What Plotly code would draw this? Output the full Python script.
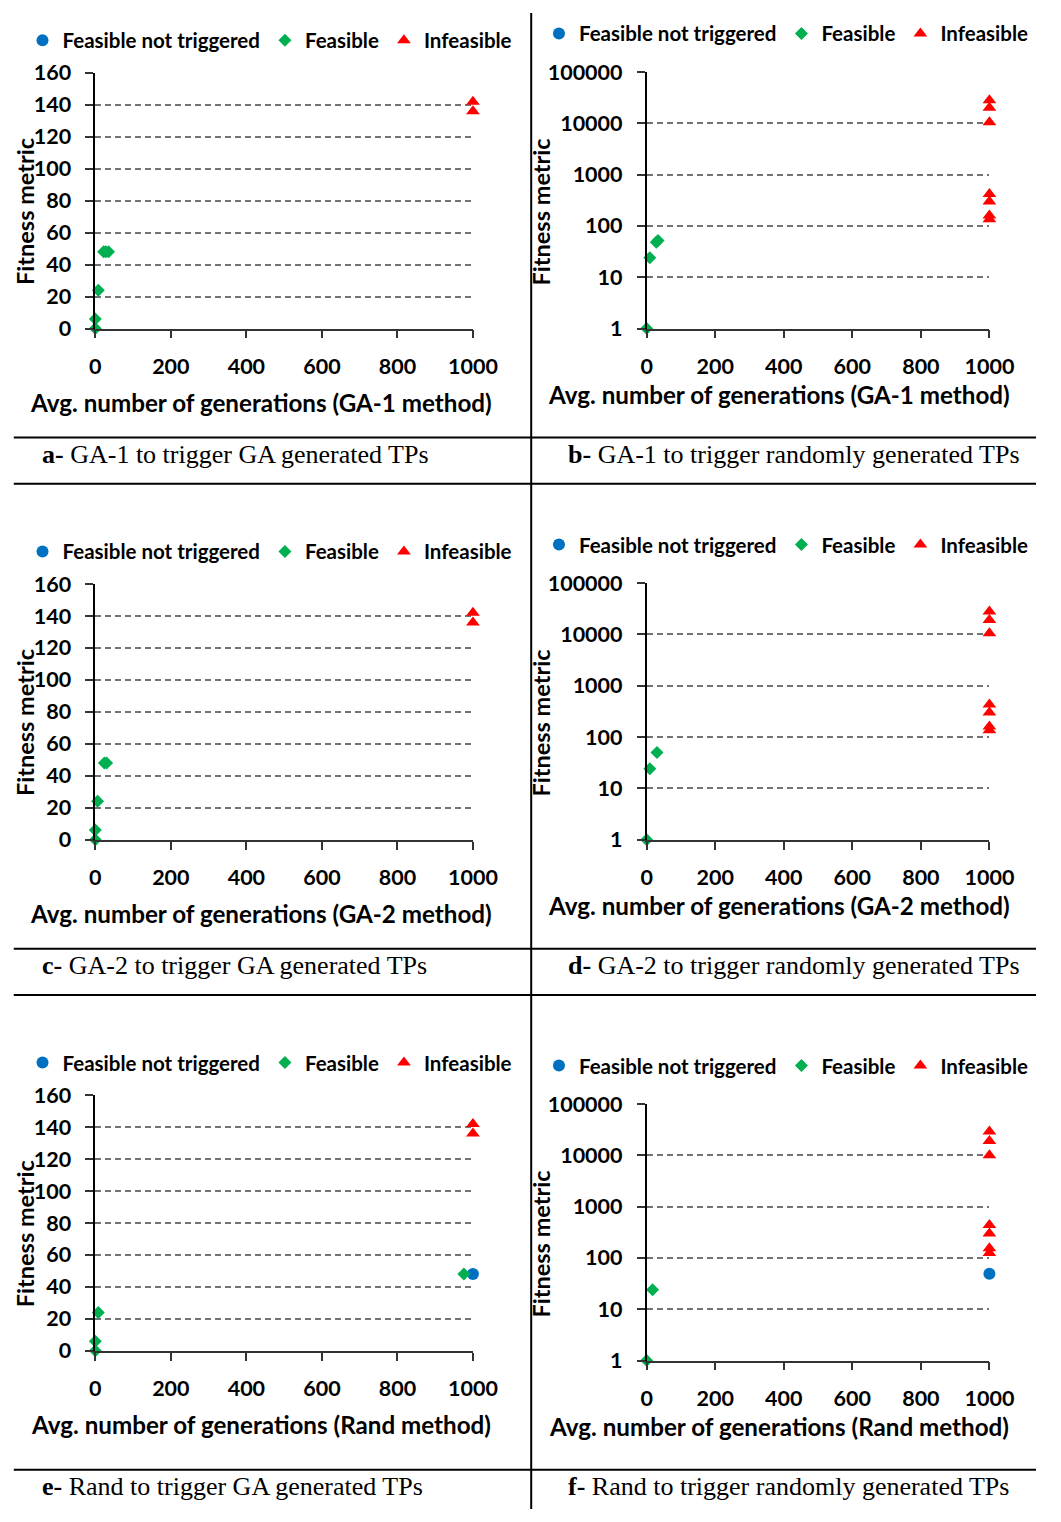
import plotly.graph_objects as go

W, H = 1061, 1522

# ---------------- data ----------------
names = ["Feasible not triggered", "Feasible", "Infeasible"]

# a- GA-1 to trigger GA generated TPs (linear fitness)
a_nt_x, a_nt_y = [], []
a_fe_x = [0, 0, 8, 22, 28, 35]
a_fe_y = [0, 6, 24, 48, 48, 48]
a_in_x = [1000, 1000]
a_in_y = [136, 142]

# b- GA-1 to trigger randomly generated TPs (log fitness)
b_nt_x, b_nt_y = [], []
b_fe_x = [0, 9, 28, 33]
b_fe_y = [1, 24, 48, 52]
b_in_x = [1000, 1000, 1000, 1000, 1000, 1000, 1000]
b_in_y = [28000, 20000, 10500, 420, 300, 160, 135]

# c- GA-2 to trigger GA generated TPs
c_nt_x, c_nt_y = [], []
c_fe_x = [0, 0, 6, 24, 30]
c_fe_y = [0, 6, 24, 48, 48]
c_in_x = [1000, 1000]
c_in_y = [136, 142]

# d- GA-2 to trigger randomly generated TPs
d_nt_x, d_nt_y = [], []
d_fe_x = [0, 9, 30]
d_fe_y = [1, 24, 50]
d_in_x = [1000, 1000, 1000, 1000, 1000, 1000, 1000]
d_in_y = [28000, 19000, 10500, 430, 300, 160, 135]

# e- Rand to trigger GA generated TPs
e_nt_x, e_nt_y = [1000], [48]
e_fe_x = [0, 0, 8, 976]
e_fe_y = [0, 6, 24, 48]
e_in_x = [1000, 1000]
e_in_y = [136, 142]

# f- Rand to trigger randomly generated TPs
f_nt_x, f_nt_y = [1000], [49]
f_fe_x = [0, 17]
f_fe_y = [1, 24]
f_in_x = [1000, 1000, 1000, 1000, 1000, 1000, 1000]
f_in_y = [29000, 19000, 10000, 440, 300, 155, 125]

x_ticks = [0, 200, 400, 600, 800, 1000]
lin_ticks = [0, 20, 40, 60, 80, 100, 120, 140, 160]
log_ticks = [1, 10, 100, 1000, 10000, 100000]
log_tick_text = ["1", "10", "100", "1000", "10000", "100000"]

captions = [
    ("a-", "GA-1 to trigger GA generated TPs"),
    ("b-", "GA-1 to trigger randomly generated TPs"),
    ("c-", "GA-2 to trigger GA generated TPs"),
    ("d-", "GA-2 to trigger randomly generated TPs"),
    ("e-", "Rand to trigger GA generated TPs"),
    ("f-", "Rand to trigger randomly generated TPs"),
]
x_titles = [
    "Avg. number of generations (GA-1 method)",
    "Avg. number of generations (GA-1 method)",
    "Avg. number of generations (GA-2 method)",
    "Avg. number of generations (GA-2 method)",
    "Avg. number of generations (Rand method)",
    "Avg. number of generations (Rand method)",
]
y_title = "Fitness metric"

series = [
    (a_nt_x, a_nt_y, a_fe_x, a_fe_y, a_in_x, a_in_y),
    (b_nt_x, b_nt_y, b_fe_x, b_fe_y, b_in_x, b_in_y),
    (c_nt_x, c_nt_y, c_fe_x, c_fe_y, c_in_x, c_in_y),
    (d_nt_x, d_nt_y, d_fe_x, d_fe_y, d_in_x, d_in_y),
    (e_nt_x, e_nt_y, e_fe_x, e_fe_y, e_in_x, e_in_y),
    (f_nt_x, f_nt_y, f_fe_x, f_fe_y, f_in_x, f_in_y),
]

# ---------------- layout geometry (pixels) ----------------
def px(x):
    return x / W


def py(y):
    return 1 - y / H


# (x_left, x_right, y_bottom, y_top, legend_y, caption_y, is_log, xtitle_y, ytitle_y)
geom = [
    (92, 481, 321, 61, 28, 449, False, 396, 202),
    (660, 1013, 321, 60, 21, 449, True, 388, 202),
    (92, 481, 841, 581, 548, 969, False, 916, 722),
    (660, 1013, 841, 580, 541, 969, True, 908, 722),
    (92, 481, 1361, 1101, 1068, 1499, False, 1436, 1242),
    (660, 1013, 1371, 1110, 1071, 1499, True, 1438, 1252),
]

BLUE, GREEN, RED = "#0070C0", "#00B050", "#FF0000"
FONT = "Lato"
AXC = "#333333"
GRIDC = "#737373"

fig = go.Figure()
layout = dict(
    width=W, height=H, margin=dict(l=0, r=0, t=0, b=0),
    paper_bgcolor="white", plot_bgcolor="white",
    font=dict(family=FONT, color="#000000"),
    annotations=[], shapes=[],
)

for i, (g, s) in enumerate(zip(geom, series)):
    xl, xr, yb, yt, ly, cy, is_log, xty, yty = g
    n = "" if i == 0 else str(i + 1)
    xa, ya = "x" + n, "y" + n
    leg = "legend" + n
    nt_x, nt_y, fe_x, fe_y, in_x, in_y = s
    fig.add_trace(go.Scatter(
        x=nt_x if nt_x else [None], y=nt_y if nt_y else [None],
        mode="markers", name=names[0], legend=leg,
        marker=dict(symbol="circle", size=12, color=BLUE),
        xaxis=xa, yaxis=ya, cliponaxis=False, showlegend=True))
    fig.add_trace(go.Scatter(
        x=fe_x, y=fe_y, mode="markers", name=names[1], legend=leg,
        marker=dict(symbol="diamond", size=10, color=GREEN),
        xaxis=xa, yaxis=ya, cliponaxis=False))
    fig.add_trace(go.Scatter(
        x=in_x, y=in_y, mode="markers", name=names[2], legend=leg,
        marker=dict(symbol="triangle-up", size=12, color=RED),
        xaxis=xa, yaxis=ya, cliponaxis=False))

    layout["xaxis" + n] = dict(
        domain=[px(xl), px(xr)], anchor=ya, range=[0, 1000],
        tickvals=x_ticks, ticktext=[str(v) for v in x_ticks],
        ticks="outside", ticklen=8, tickwidth=1.5, tickcolor=AXC,
        showline=True, linecolor=AXC, linewidth=1.8,
        showgrid=False, zeroline=False,
        tickfont=dict(family=FONT, size=21.5, color="#000", weight="bold"),
        ticklabelstandoff=10,
        fixedrange=True,
    )
    ydict = dict(
        domain=[py(yb), py(yt)], anchor=xa,
        ticks="outside", ticklen=8, tickwidth=1.5, tickcolor=AXC,
        showline=True, linecolor="#000", linewidth=1.8,
        showgrid=True, gridcolor=GRIDC, gridwidth=1.5, griddash="6px,4px",
        zeroline=False,
        tickfont=dict(family=FONT, size=21.5, color="#000", weight="bold"),
        ticklabelstandoff=10,
        fixedrange=True,
    )
    if is_log:
        ydict.update(type="log", range=[0, 5], tickvals=log_ticks, ticktext=log_tick_text)
    else:
        ydict.update(range=[0, 160], tickvals=lin_ticks, ticktext=[str(v) for v in lin_ticks])
    layout["yaxis" + n] = ydict

    # axis titles (placed like the original: centred on the chart area)
    xt_cx = 263 if not is_log else 796
    layout["annotations"].append(dict(
        text=x_titles[i], x=px(xt_cx), y=py(xty), xref="paper", yref="paper",
        xanchor="center", yanchor="middle", showarrow=False,
        font=dict(family=FONT, size=24.2, color="#000", weight="bold"),
    ))
    yt_cx = 19 if not is_log else 551
    layout["annotations"].append(dict(
        text=y_title, x=px(yt_cx), y=py(yty), xref="paper", yref="paper",
        xanchor="center", yanchor="middle", showarrow=False, textangle=-90,
        font=dict(family=FONT, size=23.5, color="#000", weight="bold"),
    ))

    lx = 17 if not is_log else 549
    layout[leg] = dict(
        orientation="h", x=px(lx), xanchor="left", y=py(ly), yanchor="middle",
        bgcolor="rgba(0,0,0,0)", borderwidth=0,
        font=dict(family=FONT, size=20.5, color="#000", weight="bold"),
        itemwidth=30, tracegroupgap=0,
    )

    cap_x = 35 if not is_log else 577
    layout["annotations"].append(dict(
        text="<b>%s</b> %s" % captions[i], x=px(cap_x), y=py(cy),
        xref="paper", yref="paper", xanchor="left", yanchor="middle",
        showarrow=False,
        font=dict(family="Liberation Serif", size=26, color="#000"),
    ))

# table rules
for yy in [432, 479, 952, 999, 1482]:
    layout["shapes"].append(dict(type="line", xref="paper", yref="paper",
                                 x0=px(8), x1=1, y0=py(yy), y1=py(yy),
                                 line=dict(color="#000", width=2)))
layout["shapes"].append(dict(type="line", xref="paper", yref="paper",
                             x0=px(541), x1=px(541), y0=0, y1=1,
                             line=dict(color="#000", width=2)))

fig.update_layout(**layout)
fig.write_html("out.html")
